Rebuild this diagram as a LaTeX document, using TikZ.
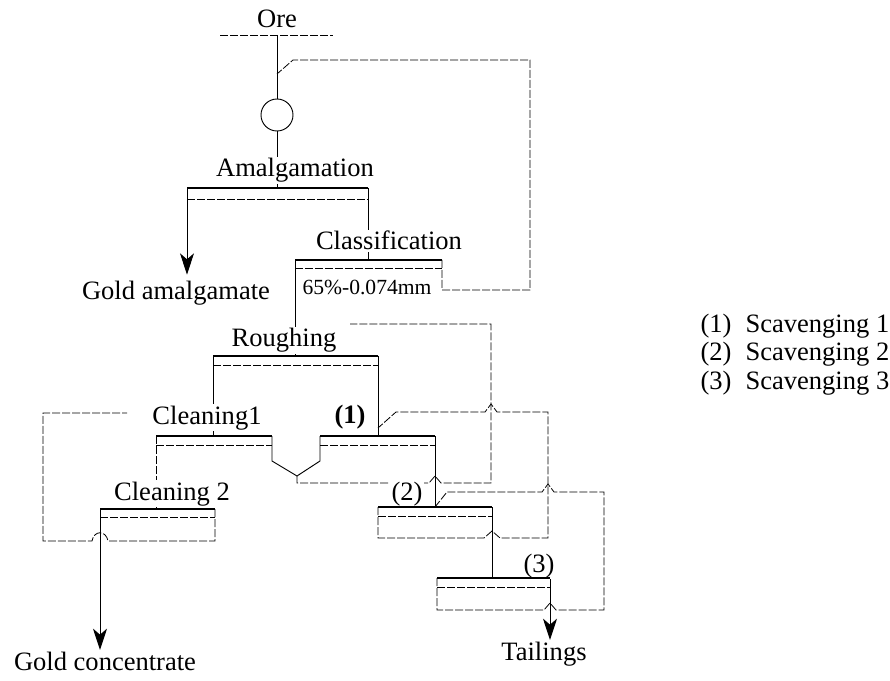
\documentclass[tikz,border=0pt]{standalone}
\usepackage{fontspec}
\setmainfont{Liberation Serif}
\newfontfamily\flowfont{Liberation Serif}
\usetikzlibrary{arrows.meta,calc}

\pgfdeclarelayer{bg}
\pgfsetlayers{bg,main}

\tikzset{
  bar/.style={line width=2.2pt},
  pipe/.style={line width=0.7pt},
  faint/.style={line width=0.6pt, dash pattern=on 6pt off 1.5pt},
  product/.style={pipe, -{Stealth[length=16pt, width=10.5pt, inset=4.5pt]}},
  lbl/.style={anchor=base, inner sep=1pt, fill=white, font=\flowfont\fontsize{19.9}{22}\selectfont},
  mill/.style={circle, draw, pipe, minimum size=24pt, inner sep=0pt},
}

\begin{document}
\begin{tikzpicture}[x=0.75pt, y=-0.75pt]
	\useasboundingbox (0,0) rectangle (890,681);

	%% Bars - left and right end of each cell
	\coordinate (amalL) at (187,188); \coordinate (amalR) at (368,188);
	\coordinate (clsL) at (295,260);  \coordinate (clsR) at (442,260);
	\coordinate (rghL) at (213,356);  \coordinate (rghR) at (378,356);
	\coordinate (cl1L) at (156,436);  \coordinate (cl1R) at (272,436);
	\coordinate (sc1L) at (320,436);  \coordinate (sc1R) at (435,436);
	\coordinate (cl2L) at (100,509);  \coordinate (cl2R) at (215,509);
	\coordinate (sc2L) at (378,507);  \coordinate (sc2R) at (492,507);
	\coordinate (sc3L) at (437,578);  \coordinate (sc3R) at (550,578);

	%% Feed points of the returned streams
	\coordinate (feed) at (277,35);
	\coordinate (millIn) at (277,74);
	\coordinate (rghIn) at (350,324);
	\coordinate (cl1In) at (127,413);
	\coordinate (sc1In) at (378,428);
	\coordinate (sc2In) at (435,507);

	% ORE
	\node[lbl] (ore) at (277,28) {Ore};
	\node[mill] (mill) at (277,115) {};

	% AMALGAMATION
	\node[lbl] (amal) at (295,177) {Amalgamation};
	\node[lbl] (gam) at (176,300) {Gold amalgamate};

	% CLASSIFICATION
	\node[lbl] (cls) at (389,250) {Classification};
	\node[lbl, font=\flowfont\fontsize{16.2}{18}\selectfont] (size) at (367,295) {65\%-0.074mm};

	% ROUGHING
	\node[lbl] (rgh) at (284,347) {Roughing};

	% CLEANING
	\node[lbl] (cl1) at (207,424) {Cleaning1};
	\node[lbl] (cl2) at (172,500) {Cleaning 2};
	\node[lbl] (gcon) at (105,670) {Gold concentrate};

	% SCAVENGING
	\node[lbl, font=\flowfont\fontsize{19.9}{22}\selectfont\bfseries] (s1) at (350,423) {(1)};
	\node[lbl] (s2) at (407,500) {(2)};
	\node[lbl] (s3) at (539,572) {(3)};
	\node[lbl] (tail) at (544,660) {Tailings};

	% KEY
	\foreach \i/\yy in {1/333,2/361,3/389} {
		\node[lbl, anchor=base west] (num\i) at (699,\yy) {(\i)};
		\node[lbl, anchor=base west] (key\i) at (744,\yy) {Scavenging \i};
	}

	%% Bars
	\foreach \cell in {amal,cls,rgh,cl1,sc1,cl2,sc2,sc3}
		\draw[bar] (\cell L) -- (\cell R);

	\begin{pgfonlayer}{bg}
		% ore and grinding, classifier sands back to the mill
		\draw[faint] ($(feed)+(-57,0)$) -- ($(feed)+(56,0)$);
		\draw[pipe] (feed) -- (mill.north);
		\draw[pipe] (mill.south) -- (feed |- amalL);
		\draw[faint] (clsR) -- ++(0,30) -| (530,60) -- (293,60) -- (millIn);

		% amalgamation
		\draw[faint] ($(amalL)+(0,11)$) -- ($(amalR)+(0,11)$);
		\draw[product, shorten >=4pt] (amalL) -- (gam.north -| amalL);
		\draw[pipe] (amalR) -- (amalR |- clsL);

		% classification
		\draw[faint] ($(clsL)+(0,8)$) -- ($(clsR)+(0,8)$);
		\draw[pipe] (clsL) -- (clsL |- rghL);

		% roughing
		\draw[faint] ($(rghL)+(0,9)$) -- ($(rghR)+(0,9)$);
		\draw[pipe] (rghL) -- (rghL |- cl1L);
		\draw[pipe] (rghR) -- (rghR |- sc1L);

		% middlings back to roughing
		\draw[pipe] (cl1R) -- ++(0,25) -- (297,476) -- ($(sc1L)+(0,25)$) -- (sc1L);
		\draw[faint] (297,476) -- (297,483) -- (429,483) -- (435,476) -- (441,483)
			-- (491,483) -- (491,324) -- (rghIn);

		% cleaning 1 and 2
		\draw[faint] ($(cl1L)+(0,9)$) -- ($(cl1R)+(0,9)$);
		\draw[faint] (cl1L) -- (cl1L |- cl2L);
		\draw[faint] ($(cl2L)+(0,8)$) -- ($(cl2R)+(0,8)$);
		\draw[faint] (cl2R) -- ++(0,32) -- (108,541)
			.. controls (106,530) and (94,530) .. (92,541) -| (43,413) -- (cl1In);
		\draw[product] (cl2L) -- (gcon.north -| cl2L);

		% scavenging 1
		\draw[faint] ($(sc1L)+(0,9)$) -- ($(sc1R)+(0,9)$);
		\draw[pipe] (sc1R) -- (sc2In);

		% scavenging 2, froth back to scavenging 1
		\draw[faint] ($(sc2L)+(0,9)$) -- ($(sc2R)+(0,9)$);
		\draw[faint] (sc2L) -- (378,538) -- (484,538) -- (492,531) -- (500,538)
			-- (548,538) -- (548,412) -- (497,412) -- (491,404) -- (485,412)
			-- (396,412) -- (sc1In);
		\draw[pipe] (sc2R) -- (sc2R |- sc3L);

		% scavenging 3, froth back to scavenging 2
		\draw[faint] ($(sc3L)+(0,9)$) -- ($(sc3R)+(0,9)$);
		\draw[faint] (sc3L) -- (437,610) -- (544,610) -- (550,603) -- (556,610)
			-- (604,610) -- (604,492) -- (554,492) -- (548,484) -- (542,492)
			-- (447,492) -- (sc2In);
		\draw[product] (sc3R) -- (tail.north -| sc3R);
	\end{pgfonlayer}
\end{tikzpicture}
\end{document}
